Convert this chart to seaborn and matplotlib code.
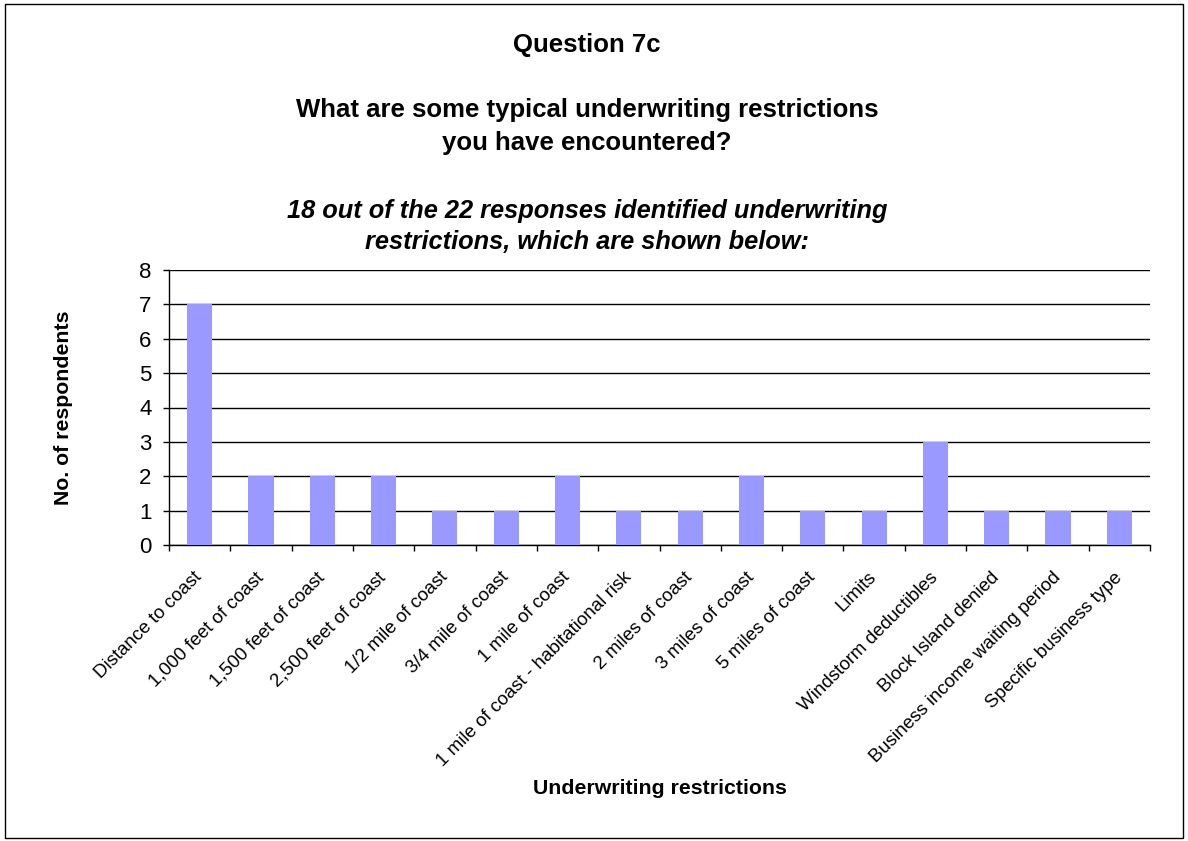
import matplotlib
matplotlib.use("Agg")
import matplotlib.pyplot as plt
from matplotlib.patches import Rectangle
from matplotlib.ticker import FixedLocator
import numpy as np
import pandas as pd
import seaborn as sns

categories = [
    "Distance to coast",
    "1,000 feet of coast",
    "1,500 feet of coast",
    "2,500 feet of coast",
    "1/2 mile of coast",
    "3/4 mile of coast",
    "1 mile of coast",
    "1 mile of coast - habitational risk",
    "2 miles of coast",
    "3 miles of coast",
    "5 miles of coast",
    "Limits",
    "Windstorm deductibles",
    "Block Island denied",
    "Business income waiting period",
    "Specific business type",
]
respondents = [7, 2, 2, 2, 1, 1, 2, 1, 1, 2, 1, 1, 3, 1, 1, 1]
y_ticks = [0, 1, 2, 3, 4, 5, 6, 7, 8]

sns.set_theme(style="white")
plt.rcParams["font.family"] = ["Liberation Sans", "DejaVu Sans"]
plt.rcParams["text.color"] = "black"
plt.rcParams["axes.labelcolor"] = "black"
plt.rcParams["xtick.color"] = "black"
plt.rcParams["ytick.color"] = "black"

df = pd.DataFrame({"restriction": categories, "count": respondents})

W, H = 1188, 841
fig = plt.figure(figsize=(W / 100, H / 100), dpi=100)
ax = fig.add_axes([169 / W, 1 - 545 / H, 981 / W, 275 / H])

sns.barplot(data=df, x="restriction", y="count", order=categories,
            color="#9999FF", saturation=1, width=0.41, linewidth=0,
            edgecolor="none", ax=ax, zorder=3)

ax.set_ylim(0, 8)
ax.set_xlim(-0.5, len(categories) - 0.5)
ax.set_yticks(y_ticks)
ax.set_yticklabels([str(v) for v in y_ticks], fontsize=16)
ax.yaxis.grid(True, color="black", linewidth=1.0, zorder=0)
ax.set_axisbelow(True)

for side in ("top", "right"):
    ax.spines[side].set_visible(False)
for side in ("left", "bottom"):
    ax.spines[side].set_color("black")
    ax.spines[side].set_linewidth(1.0)

ax.tick_params(axis="y", direction="out", length=4.5, width=1, color="black",
               left=True, pad=8)
ax.set_xticks(range(len(categories)))
ax.set_xticklabels(categories, rotation=45, ha="right", va="center",
                   rotation_mode="anchor", fontsize=13.5)
ax.tick_params(axis="x", which="major", length=0, pad=21.5)
ax.xaxis.set_minor_locator(FixedLocator(np.arange(-0.5, len(categories), 1.0)))
ax.tick_params(axis="x", which="minor", direction="out", length=4.5, width=1,
               color="black", bottom=True)

ax.set_xlabel("Underwriting restrictions", fontsize=15.3, fontweight="bold")
ax.xaxis.set_label_coords(0.5, -0.85)
ax.set_ylabel("No. of respondents", fontsize=15.3, fontweight="bold")
ax.yaxis.set_label_coords(-0.098, 0.5)

cx = 587 / W
fig.text(cx, 1 - 52 / H, "Question 7c", ha="center", va="baseline",
         fontsize=18.5, fontweight="bold")
fig.text(cx, 1 - 117 / H, "What are some typical underwriting restrictions",
         ha="center", va="baseline", fontsize=18.5, fontweight="bold")
fig.text(cx, 1 - 150 / H, "you have encountered?",
         ha="center", va="baseline", fontsize=18.5, fontweight="bold")
fig.text(cx, 1 - 218 / H,
         "18 out of the 22 responses identified underwriting",
         ha="center", va="baseline", fontsize=18.3, fontweight="bold",
         style="italic")
fig.text(cx, 1 - 249 / H, "restrictions, which are shown below:",
         ha="center", va="baseline", fontsize=18.3, fontweight="bold",
         style="italic")

fig.patches.append(Rectangle((5 / W, 3 / H), 1178 / W, 834 / H,
                             transform=fig.transFigure, fill=False,
                             edgecolor="black", linewidth=1.0))

fig.savefig("out.png", dpi=100, facecolor="white")
